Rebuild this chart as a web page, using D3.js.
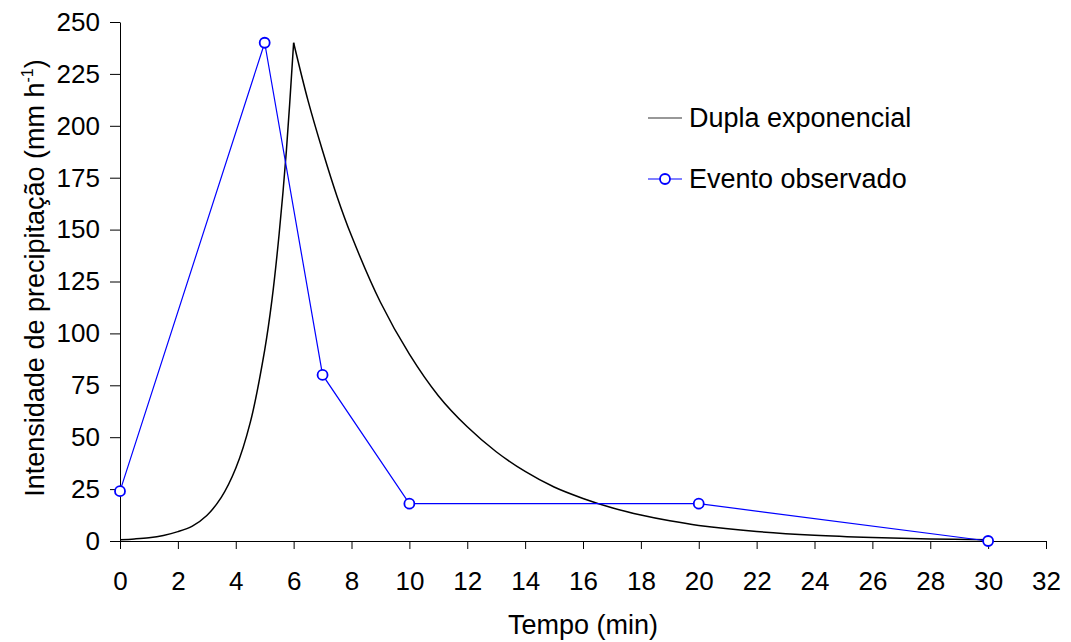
<!DOCTYPE html>
<html>
<head>
<meta charset="utf-8">
<script src="https://cdn.jsdelivr.net/npm/d3@7.9.0/dist/d3.min.js"></script>
<style>
  body { margin: 0; background: #fff; }
  svg { display: block; font-family: "Liberation Sans", Arial, sans-serif; }
  .axis text { font-size: 26px; fill: #000; }
  .axis path, .axis line { stroke: #000; stroke-width: 1; }
</style>
</head>
<body>
<svg width="1071" height="642"></svg>
<script>
// observed event (Evento observado)
const obsTime = [0, 5, 7, 10, 20, 30];
const obsIntensity = [24, 240, 80, 18, 18, 0];

// double exponential curve (rising / falling branch)
const riseTime = [0, 0.5, 1, 1.5, 2, 2.5, 3, 3.5, 4, 4.5, 5, 5.25, 5.5, 5.75, 6];
const riseIntensity = [0.6, 1.0, 1.6, 2.7, 4.5, 7.2, 12.3, 21, 35, 57, 92, 116, 148, 188, 240];
const fallTime = [6, 6.5, 7, 7.5, 8, 9, 10, 11, 12, 13, 14, 15, 16, 17, 18, 19, 20, 22, 24, 26, 28, 30];
const fallIntensity = [240, 212, 188, 166, 147, 115, 90, 70, 55, 43, 33.5, 26, 20.5, 16, 12.5, 9.7, 7.5, 4.6, 2.8, 1.7, 1.0, 0.6];

const xTicks = d3.range(0, 33, 2);
const yTicks = d3.range(0, 251, 25);

const svg = d3.select('svg');
const x = d3.scaleLinear().domain([0, 32]).range([120, 1046]);
const y = d3.scaleLinear().domain([0, 250]).range([541, 22]);

// axes
svg.append('g')
  .attr('class', 'axis')
  .attr('transform', `translate(0,${y(0)})`)
  .call(d3.axisBottom(x).tickValues(xTicks).tickSize(8).tickSizeOuter(0).tickPadding(23));

svg.append('g')
  .attr('class', 'axis')
  .attr('transform', `translate(${x(0)},0)`)
  .call(d3.axisLeft(y).tickValues(yTicks).tickSize(10).tickSizeOuter(0).tickPadding(10));

// axis titles
svg.append('text')
  .attr('x', 583).attr('y', 634)
  .attr('text-anchor', 'middle')
  .style('font-size', '27px')
  .text('Tempo (min)');

const yTitle = svg.append('text')
  .attr('transform', 'translate(44,278) rotate(-90)')
  .attr('text-anchor', 'middle')
  .style('font-size', '27px');
yTitle.append('tspan').text('Intensidade de precipitação (mm h');
yTitle.append('tspan').attr('dy', -11).style('font-size', '16px').text('-1');
yTitle.append('tspan').attr('dy', 11).text(')');

// double exponential
const line = d3.line().x(d => x(d[0])).y(d => y(d[1])).curve(d3.curveCatmullRom.alpha(0.5));
[[riseTime, riseIntensity], [fallTime, fallIntensity]].forEach(([t, v]) => {
  svg.append('path')
    .datum(t.map((d, i) => [d, v[i]]))
    .attr('d', line)
    .attr('fill', 'none')
    .attr('stroke', '#000')
    .attr('stroke-width', 1.5);
});

// observed
const obs = obsTime.map((d, i) => [d, obsIntensity[i]]);
svg.append('path')
  .datum(obs)
  .attr('d', d3.line().x(d => x(d[0])).y(d => y(d[1])))
  .attr('fill', 'none')
  .attr('stroke', '#0000ff')
  .attr('stroke-width', 1.2);
svg.selectAll('circle.obs')
  .data(obs)
  .join('circle')
  .attr('class', 'obs')
  .attr('cx', d => x(d[0]))
  .attr('cy', d => y(d[1]))
  .attr('r', 5)
  .attr('fill', '#fff')
  .attr('stroke', '#0000ff')
  .attr('stroke-width', 1.8);

// legend
const legend = svg.append('g');
legend.append('line')
  .attr('x1', 648).attr('x2', 682).attr('y1', 118).attr('y2', 118)
  .attr('stroke', '#333').attr('stroke-width', 1.2);
legend.append('text')
  .attr('x', 689).attr('y', 127)
  .style('font-size', '27px')
  .text('Dupla exponencial');
legend.append('line')
  .attr('x1', 648).attr('x2', 682).attr('y1', 179).attr('y2', 179)
  .attr('stroke', '#0000ff').attr('stroke-width', 1.2);
legend.append('circle')
  .attr('cx', 665).attr('cy', 179).attr('r', 5)
  .attr('fill', '#fff').attr('stroke', '#0000ff').attr('stroke-width', 1.8);
legend.append('text')
  .attr('x', 689).attr('y', 188)
  .style('font-size', '27px')
  .text('Evento observado');
</script>
</body>
</html>
